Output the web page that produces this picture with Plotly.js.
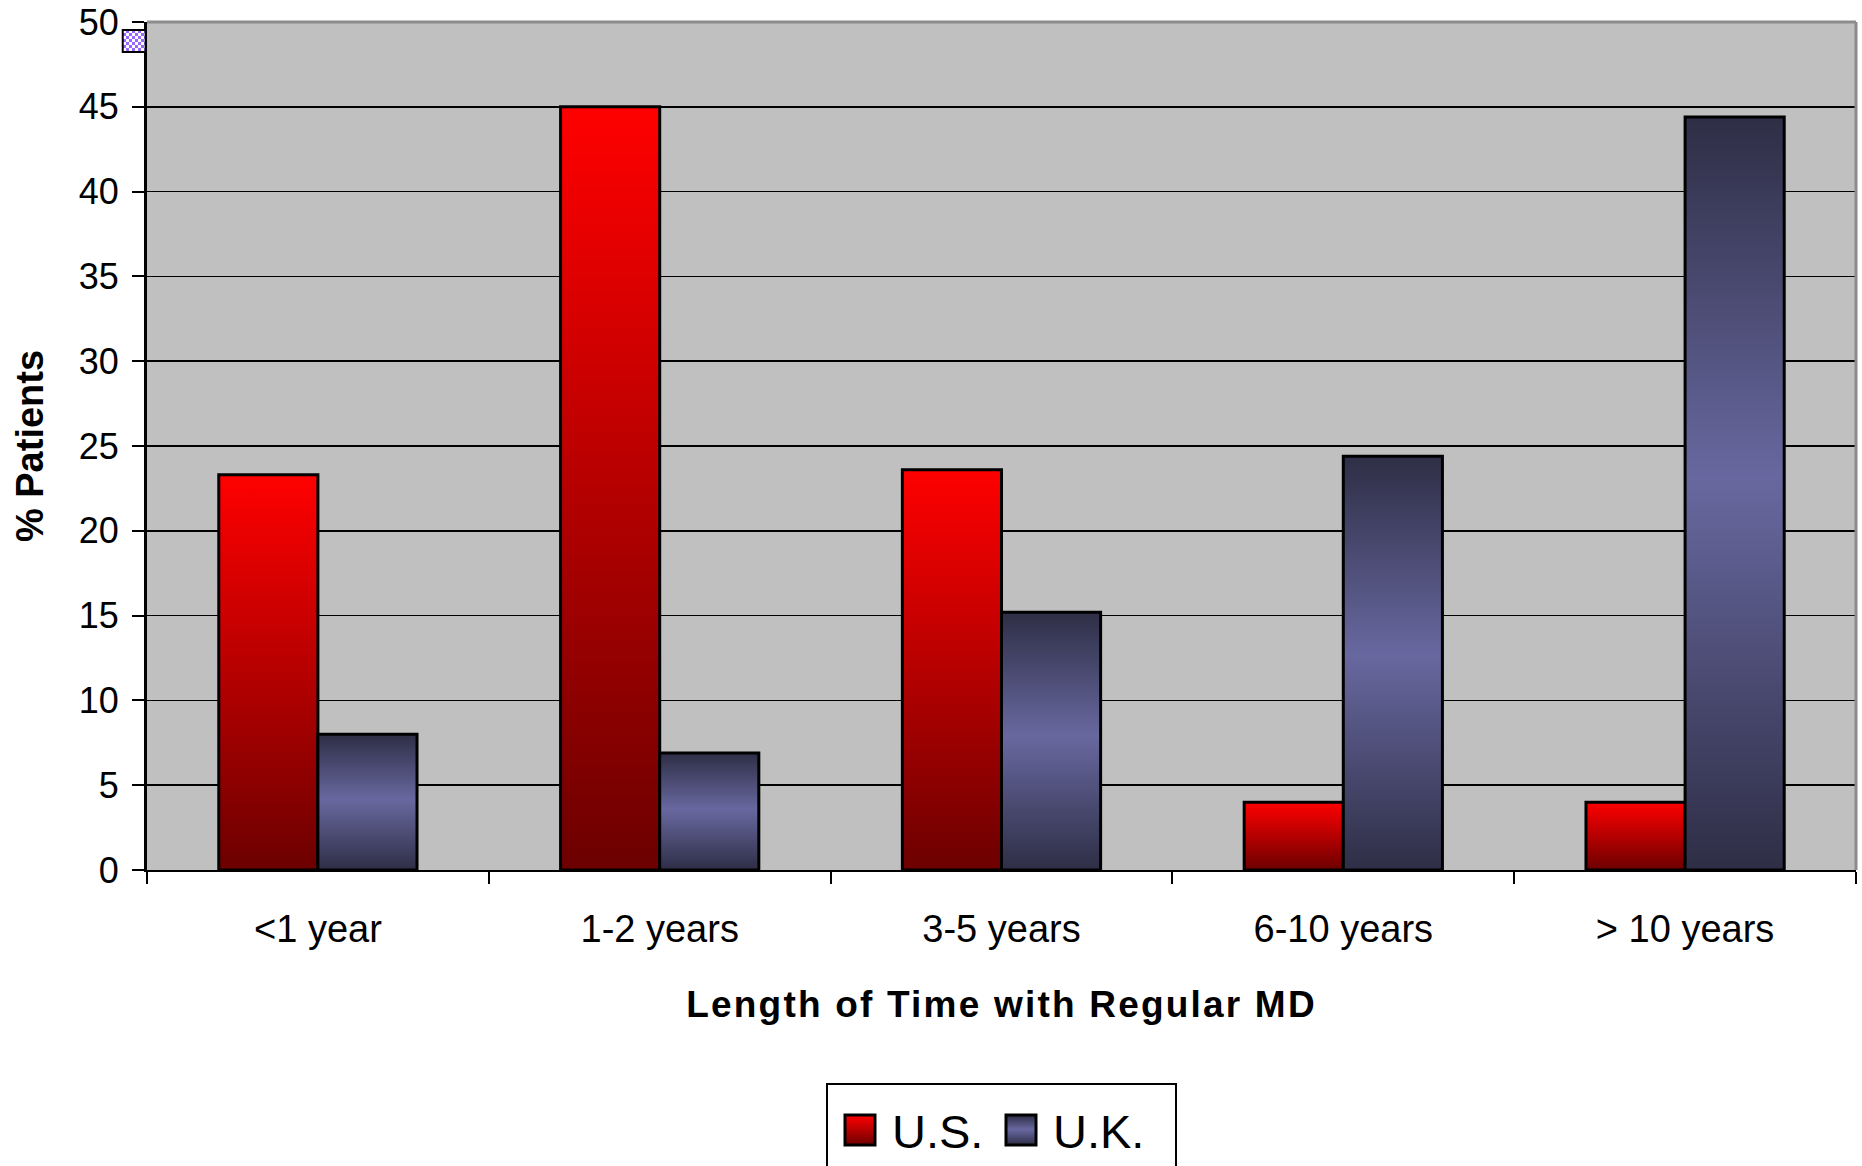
<!DOCTYPE html>
<html>
<head>
<meta charset="utf-8">
<script src="https://cdn.plot.ly/plotly-3.0.1.min.js"></script>
<style>
  html, body { margin: 0; padding: 0; background: #ffffff; }
  #chart { width: 1862px; height: 1166px; }
</style>
</head>
<body>
<div id="chart"></div>
<script>
// Share of patients by how long they have been with their regular doctor
const categories = ['<1 year', '1-2 years', '3-5 years', '6-10 years', '> 10 years'];
const usValues = [23.3, 45.0, 23.6, 4.0, 4.0];
const ukValues = [8.0, 6.9, 15.2, 24.4, 44.4];
const seriesNames = ['U.S.', 'U.K.'];
const yTickValues = [0, 5, 10, 15, 20, 25, 30, 35, 40, 45, 50];

const FONT = 'Arial, "Liberation Sans", Helvetica, sans-serif';

const traces = [
  {
    type: 'bar',
    name: seriesNames[0],
    x: categories,
    y: usValues,
    marker: { color: '#c00000', line: { color: '#000000', width: 3 } },
    hoverinfo: 'skip'
  },
  {
    type: 'bar',
    name: seriesNames[1],
    x: categories,
    y: ukValues,
    marker: { color: '#4a4a78', line: { color: '#000000', width: 3 } },
    hoverinfo: 'skip'
  }
];

const layout = {
  width: 1862,
  height: 1166,
  margin: { l: 147, r: 6, t: 22, b: 296, autoexpand: false },
  paper_bgcolor: '#ffffff',
  plot_bgcolor: '#c0c0c0',
  font: { family: FONT, color: '#000000', size: 36 },
  barmode: 'group',
  bargap: 0.42,
  bargroupgap: 0,
  showlegend: true,
  legend: {
    orientation: 'h',
    x: 0.5,
    xanchor: 'center',
    y: -0.2512,
    yanchor: 'top',
    bgcolor: '#ffffff',
    bordercolor: '#000000',
    borderwidth: 2,
    font: { family: FONT, size: 47, color: '#000000' },
    itemwidth: 54,
    entrywidth: 92,
    entrywidthmode: 'pixels',
    traceorder: 'normal'
  },
  xaxis: {
    type: 'category',
    showgrid: false,
    showline: true,
    linecolor: '#000000',
    linewidth: 2,
    ticks: 'outside',
    tickson: 'boundaries',
    ticklen: 12,
    tickwidth: 2,
    tickcolor: '#000000',
    ticklabelstandoff: 24,
    tickfont: { family: FONT, size: 38, color: '#000000' },
    title: {
      text: 'Length of Time with Regular MD',
      font: { family: FONT, size: 37, color: '#000000', weight: 'bold' },
      standoff: 43
    },
    fixedrange: true
  },
  yaxis: {
    range: [0, 50],
    tickmode: 'array',
    tickvals: yTickValues,
    ticktext: yTickValues.map(String),
    showgrid: true,
    gridcolor: '#000000',
    gridwidth: 1.5,
    zeroline: false,
    showline: true,
    linecolor: '#000000',
    linewidth: 3,
    ticks: 'outside',
    ticklen: 12,
    tickwidth: 2,
    tickcolor: '#000000',
    ticklabelstandoff: 6,
    tickfont: { family: FONT, size: 36, color: '#000000' },
    title: {
      text: '% Patients',
      font: { family: FONT, size: 38, color: '#000000', weight: 'bold' },
      standoff: 24
    },
    fixedrange: true
  },
  shapes: [
    // grey plot-area frame along the top and right edges
    { type: 'line', xref: 'paper', yref: 'paper', x0: 0, x1: 1, y0: 1, y1: 1,
      line: { color: '#8c8c8c', width: 3 }, layer: 'above' },
    { type: 'line', xref: 'paper', yref: 'paper', x0: 1, x1: 1, y0: 0, y1: 1,
      line: { color: '#8c8c8c', width: 3 }, layer: 'above' },
    // small checkered marker beside the top of the value axis
    { type: 'rect', xref: 'paper', yref: 'paper', x0: -0.0142, x1: -0.0008, y0: 0.9646, y1: 0.9906,
      fillcolor: '#b89cff', line: { color: '#000000', width: 2 }, layer: 'above', name: 'checker' }
  ]
};

const config = { staticPlot: true, displayModeBar: false, responsive: false };

const NS = 'http://www.w3.org/2000/svg';

function makeGradient(defs, id, stops) {
  const g = document.createElementNS(NS, 'linearGradient');
  g.setAttribute('id', id);
  g.setAttribute('x1', '0'); g.setAttribute('y1', '0');
  g.setAttribute('x2', '0'); g.setAttribute('y2', '1');
  stops.forEach(([off, col]) => {
    const s = document.createElementNS(NS, 'stop');
    s.setAttribute('offset', off);
    s.setAttribute('stop-color', col);
    g.appendChild(s);
  });
  defs.appendChild(g);
}

function makeChecker(defs, id) {
  const p = document.createElementNS(NS, 'pattern');
  p.setAttribute('id', id);
  p.setAttribute('patternUnits', 'userSpaceOnUse');
  p.setAttribute('width', '6'); p.setAttribute('height', '6');
  const bg = document.createElementNS(NS, 'rect');
  bg.setAttribute('width', '6'); bg.setAttribute('height', '6'); bg.setAttribute('fill', '#ffffff');
  p.appendChild(bg);
  [[0, 0], [3, 3]].forEach(([x, y]) => {
    const r = document.createElementNS(NS, 'rect');
    r.setAttribute('x', x); r.setAttribute('y', y);
    r.setAttribute('width', '3'); r.setAttribute('height', '3');
    r.setAttribute('fill', '#9966ff');
    p.appendChild(r);
  });
  defs.appendChild(p);
}

function paintFills(gd) {
  const svg = gd.querySelector('svg.main-svg');
  let defs = svg.querySelector('defs');
  if (!defs) { defs = document.createElementNS(NS, 'defs'); svg.insertBefore(defs, svg.firstChild); }

  makeGradient(defs, 'fill-us', [['0', '#ff0000'], ['1', '#6c0000']]);
  makeGradient(defs, 'fill-uk', [['0', '#2e2e46'], ['0.48', '#6868a0'], ['1', '#2e2e46']]);
  makeChecker(defs, 'fill-checker');

  const fills = ['url(#fill-us)', 'url(#fill-uk)'];

  gd.querySelectorAll('.barlayer .trace').forEach((tr, i) => {
    tr.querySelectorAll('path').forEach(p => { p.style.fill = fills[i]; });
  });

  gd.querySelectorAll('.legend .traces').forEach((tr, i) => {
    tr.querySelectorAll('.legendpoints path').forEach(p => {
      p.setAttribute('d', 'M15,15H-15V-15H15Z');
      p.style.fill = fills[i];
      p.style.stroke = '#000000';
      p.style.strokeWidth = '3px';
    });
  });

  // legend box: a little wider, running off the bottom edge, entries slightly lower
  const legend = gd.querySelector('.legend');
  if (legend) {
    const extraW = 25;
    const bg = legend.querySelector('rect.bg');
    if (bg) {
      bg.setAttribute('height', String(parseFloat(bg.getAttribute('height')) + 40));
      bg.setAttribute('width', String(parseFloat(bg.getAttribute('width')) + extraW));
    }
    legend.setAttribute('transform', (legend.getAttribute('transform') || '') + ' translate(' + (-extraW / 2) + ',0)');
    const box = legend.querySelector('.scrollbox');
    if (box) {
      box.removeAttribute('clip-path');
      box.setAttribute('transform', (box.getAttribute('transform') || '') + ' translate(0,8)');
    }
  }

  // wider letter spacing in the category axis title
  const xt = gd.querySelector('.g-xtitle text');
  if (xt) xt.style.letterSpacing = '2.2px';

  gd.querySelectorAll('.shapelayer path').forEach(p => {
    if (p.getAttribute('data-index') === '2') p.style.fill = 'url(#fill-checker)';
  });
}

Plotly.newPlot('chart', traces, layout, config).then(paintFills);
</script>
</body>
</html>
